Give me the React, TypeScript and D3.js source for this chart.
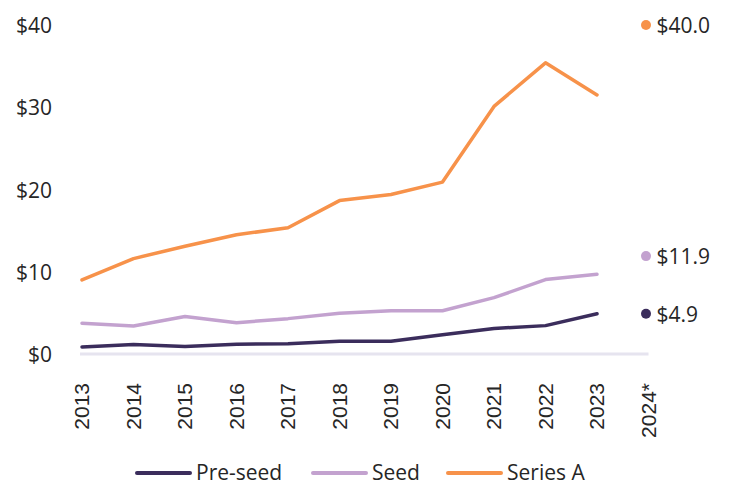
import React from "react";
import * as d3 from "d3";

const years = ["2013","2014","2015","2016","2017","2018","2019","2020","2021","2022","2023","2024*"];
const lineYears = years.slice(0, 11);
const preSeed = [0.85, 1.15, 0.9, 1.2, 1.25, 1.55, 1.55, 2.35, 3.1, 3.45, 4.9];
const seed = [3.75, 3.4, 4.55, 3.8, 4.3, 4.95, 5.25, 5.25, 6.85, 9.05, 9.7];
const seriesA = [9.0, 11.6, 13.1, 14.5, 15.35, 18.65, 19.4, 20.9, 30.1, 35.4, 31.5];
const latest = [4.9, 11.9, 40.0];
const latestLabels = ["$4.9", "$11.9", "$40.0"];
const seriesNames = ["Pre-seed", "Seed", "Series A"];
const colors = ["#3b2d5c", "#c3a2cf", "#f7924a"];
const yTicks = [0, 10, 20, 30, 40];

const W = 730, H = 487;
const sansFont = "'Open Sans', 'Noto Sans', sans-serif";
const axisFont = "'Liberation Sans', Arial, sans-serif";

export default function App() {
  const x = d3.scalePoint<string>().domain(years).range([82, 648.5]);
  const y = d3.scaleLinear().domain([0, 40]).range([354, 25]);
  const line = d3.line<number>().x((_, i) => x(lineYears[i])!).y(d => y(d));
  const all = [preSeed, seed, seriesA];
  const legendX = [137, 313, 448];
  return (
    <svg width={W} height={H} style={{ position: "absolute", left: 0, top: 0, background: "#fff" }}>
      <line x1={x(years[0])! - 2} x2={x(years[11])!} y1={y(0)} y2={y(0)} stroke="#e6e4ef" strokeWidth={3} />
      {yTicks.map(t => (
        <text key={t} x={52} y={y(t)} textAnchor="end" dominantBaseline="central"
          fontFamily={sansFont} fontSize={21} fill="#262626">${t}</text>
      ))}
      {years.map(yr => (
        <text key={yr} transform={`translate(${x(yr)! - 0.5},383) rotate(-90)`} textAnchor="end"
          dominantBaseline="central" fontFamily={axisFont} fontSize={21} fill="#262626">{yr}</text>
      ))}
      {all.map((s, i) => (
        <path key={i} d={line(s)!} fill="none" stroke={colors[i]} strokeWidth={3.5}
          strokeLinejoin="round" strokeLinecap="round" />
      ))}
      {latest.map((v, i) => (
        <g key={i}>
          <circle cx={x(years[11])! - 2.5} cy={y(v)} r={5} fill={colors[i]} />
          <text x={x(years[11])! + 8} y={y(v)} dominantBaseline="central" fontFamily={sansFont}
            fontSize={21} fill="#262626">{latestLabels[i]}</text>
        </g>
      ))}
      {seriesNames.map((n, i) => (
        <g key={n}>
          <line x1={legendX[i]} x2={legendX[i] + 53} y1={473} y2={473} stroke={colors[i]}
            strokeWidth={4} strokeLinecap="round" />
          <text x={legendX[i] + 59} y={472} dominantBaseline="central" fontFamily={sansFont}
            fontSize={21} fill="#262626">{n}</text>
        </g>
      ))}
    </svg>
  );
}
